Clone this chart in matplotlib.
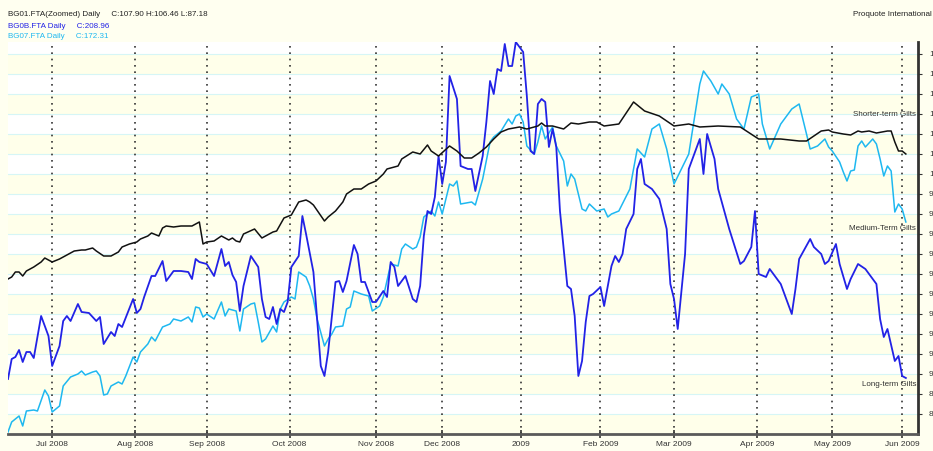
import matplotlib
matplotlib.use("Agg")
import matplotlib.pyplot as plt
import numpy as np

plt.rcParams['font.family'] = ['Liberation Sans', 'DejaVu Sans']

# (trading day since 13 Jun 2008, value)
short_term = [(0, 94.75), (1, 94.85), (2, 95.1), (3, 95.1), (4, 94.9), (5, 95.15), (7, 95.35), (9, 95.6),
              (10, 95.8), (11, 95.7), (12, 95.6), (14, 95.75), (16, 95.95), (18, 96.15), (20, 96.2), (21, 96.2),
              (23, 96.3), (24, 96.15), (26, 95.9), (27, 95.9), (28, 95.9), (30, 96.1), (31, 96.35), (33, 96.5),
              (35, 96.6), (36, 96.75), (38, 96.9), (39, 97.05), (41, 96.9), (42, 97.3), (43, 97.4), (45, 97.35),
              (47, 97.4), (49, 97.4), (50, 97.4), (52, 97.6), (53, 96.5), (54, 96.6), (56, 96.65), (58, 96.9),
              (60, 96.7), (61, 96.8), (62, 96.65), (63, 96.6), (64, 97.0), (67, 97.25), (69, 96.8), (72, 97.1),
              (73, 97.15), (75, 97.8), (77, 97.95), (79, 98.6), (81, 98.7), (82, 98.6), (83, 98.45), (86, 97.65),
              (87, 97.85), (89, 98.15), (91, 98.6), (92, 99.0), (94, 99.25), (96, 99.25), (98, 99.5), (100, 99.65),
              (102, 100.0), (103, 100.25), (106, 100.4), (107, 100.75), (110, 101.1), (112, 101.0), (114, 101.45),
              (115, 101.15), (117, 100.9), (120, 101.4), (122, 101.15), (124, 100.8), (126, 100.8), (128, 101.05),
              (130, 101.35), (132, 101.75), (134, 102.1), (136, 102.25), (139, 102.35), (141, 102.25), (144, 102.4),
              (145, 102.55), (146, 102.4), (148, 102.4), (151, 102.25), (153, 102.55), (155, 102.5), (158, 102.6),
              (160, 102.6), (162, 102.4), (164, 102.45), (166, 102.5), (170, 103.6), (173, 103.15), (177, 102.9),
              (181, 102.4), (185, 102.5), (188, 102.35), (193, 102.4), (199, 102.35), (204, 101.75), (210, 101.75),
              (215, 101.65), (217, 101.65), (219, 101.9), (221, 102.15), (223, 102.2), (224, 102.1), (227, 102.0),
              (229, 101.95), (231, 102.15), (232, 102.1), (234, 102.15), (236, 102.05), (239, 102.15), (240, 102.15),
              (241, 101.6), (242, 101.15), (243, 101.15), (244, 101.0)]

medium_term = [(0, 87.1), (1, 87.6), (3, 87.9), (4, 87.4), (5, 88.15), (7, 88.2), (8, 88.15), (10, 89.2), (11, 88.9),
               (12, 88.1), (14, 88.4), (15, 89.4), (17, 89.85), (19, 90.0), (20, 90.15), (21, 89.95), (23, 90.1),
               (24, 90.15), (25, 89.9), (26, 88.95), (27, 89.0), (28, 89.4), (30, 89.6), (31, 89.5), (32, 89.9),
               (34, 90.85), (35, 90.6), (36, 91.1), (38, 91.5), (39, 91.85), (40, 91.65), (42, 92.35), (44, 92.5),
               (45, 92.75), (47, 92.65), (49, 92.85), (50, 92.6), (51, 93.35), (52, 93.3), (53, 92.85), (54, 93.0),
               (56, 92.75), (58, 93.6), (59, 92.9), (60, 93.25), (62, 93.15), (63, 92.15), (64, 93.25), (66, 93.5),
               (67, 93.55), (68, 92.6), (69, 91.6), (70, 91.75), (72, 92.4), (73, 92.1), (74, 93.25), (75, 93.6),
               (77, 93.85), (78, 93.75), (79, 95.1), (81, 94.85), (82, 94.4), (83, 93.75), (84, 92.75), (86, 91.4),
               (87, 91.75), (88, 92.0), (89, 92.35), (91, 92.4), (92, 93.25), (93, 93.35), (94, 94.15), (96, 94.0),
               (98, 93.9), (99, 93.15), (101, 93.4), (102, 93.85), (104, 95.5), (106, 95.4), (107, 96.25), (108, 96.5),
               (110, 96.25), (111, 96.35), (112, 96.85), (113, 97.85), (115, 98.15), (116, 97.9), (117, 98.6),
               (118, 98.0), (120, 99.5), (121, 99.4), (122, 99.65), (123, 98.5), (126, 98.6), (127, 98.45),
               (129, 99.75), (131, 101.6), (132, 101.85), (134, 102.15), (136, 102.75), (137, 102.5), (138, 102.9),
               (139, 103.0), (140, 102.6), (141, 101.4), (143, 101.0), (144, 101.6), (145, 102.4), (146, 101.75),
               (148, 102.35), (149, 101.4), (151, 100.65), (152, 99.4), (153, 100.0), (154, 99.75), (156, 98.25),
               (157, 98.15), (158, 98.5), (160, 98.15), (162, 98.25), (163, 97.85), (164, 98.0), (166, 98.15),
               (169, 99.25), (171, 101.25), (173, 100.85), (175, 102.25), (177, 102.5), (179, 101.25), (181, 99.5),
               (185, 101.0), (188, 104.5), (189, 105.15), (191, 104.65), (193, 104.0), (194, 104.5), (196, 104.0),
               (198, 102.75), (200, 102.25), (202, 103.85), (204, 104.0), (205, 102.5), (207, 101.25), (210, 102.5),
               (213, 103.25), (215, 103.5), (216, 102.75), (218, 101.25), (220, 101.4), (222, 101.75), (223, 101.35),
               (224, 101.15), (226, 100.6), (227, 100.1), (228, 99.65), (229, 100.15), (230, 100.2), (231, 101.4),
               (232, 101.65), (233, 101.35), (235, 101.75), (236, 101.5), (237, 100.75), (238, 99.9), (239, 100.4),
               (240, 100.15), (241, 98.1), (242, 98.5), (243, 98.25), (244, 97.6)]

long_term = [(0, 89.75), (1, 90.75), (2, 90.85), (3, 91.2), (4, 90.6), (5, 91.1), (6, 91.1), (7, 90.8), (9, 92.9),
             (11, 91.9), (12, 90.4), (14, 91.4), (15, 92.65), (16, 92.9), (17, 92.65), (19, 93.5), (20, 93.1),
             (22, 93.05), (24, 92.65), (25, 92.85), (26, 91.5), (28, 92.1), (29, 91.9), (30, 92.5), (31, 92.35),
             (34, 93.75), (35, 93.05), (36, 93.25), (37, 93.85), (39, 94.9), (40, 94.9), (42, 95.65), (43, 94.65),
             (45, 95.15), (47, 95.15), (49, 95.1), (50, 94.75), (51, 95.75), (52, 95.6), (54, 95.5), (56, 94.9),
             (58, 96.25), (59, 95.4), (60, 95.6), (61, 94.95), (62, 94.6), (63, 93.15), (64, 94.4), (66, 95.9),
             (68, 95.35), (69, 93.75), (70, 92.85), (71, 92.75), (72, 93.35), (73, 92.5), (74, 93.25), (75, 93.1),
             (76, 93.6), (77, 95.35), (79, 95.9), (80, 97.9), (81, 97.0), (83, 95.1), (85, 90.4), (86, 89.9),
             (87, 91.1), (89, 94.6), (90, 94.65), (91, 94.1), (92, 94.65), (94, 96.45), (95, 96.0), (96, 94.6),
             (97, 94.6), (99, 93.6), (100, 93.6), (102, 94.15), (103, 93.85), (104, 95.6), (105, 95.35), (106, 94.4),
             (108, 94.9), (110, 93.75), (111, 93.6), (112, 94.4), (113, 96.9), (114, 98.15), (115, 98.0),
             (116, 98.85), (117, 100.9), (118, 99.5), (119, 100.6), (120, 104.9), (122, 103.75), (123, 100.4),
             (125, 100.25), (126, 100.25), (127, 99.15), (129, 100.9), (130, 102.6), (131, 104.65), (132, 104.0),
             (133, 105.25), (134, 105.15), (135, 106.5), (136, 105.4), (137, 105.4), (138, 106.6), (140, 106.1),
             (141, 103.9), (142, 101.15), (143, 101.0), (144, 103.5), (145, 103.75), (146, 103.6), (147, 101.35),
             (148, 102.25), (149, 101.35), (150, 98.15), (152, 94.4), (153, 94.25), (154, 92.9), (155, 89.9),
             (156, 90.65), (157, 92.6), (158, 93.9), (159, 94.0), (161, 94.35), (162, 93.4), (163, 94.4), (164, 95.4),
             (165, 95.9), (166, 95.6), (167, 96.0), (168, 97.25), (170, 98.0), (171, 100.25), (172, 100.75),
             (173, 99.5), (175, 99.25), (177, 98.75), (179, 97.25), (180, 94.5), (181, 93.75), (182, 92.25),
             (184, 96.0), (185, 100.25), (187, 101.25), (188, 101.75), (189, 100.0), (190, 102.0), (192, 100.75),
             (193, 99.25), (196, 97.25), (199, 95.5), (200, 95.65), (202, 96.35), (203, 98.15), (204, 95.0),
             (206, 94.85), (207, 95.25), (210, 94.5), (213, 93.0), (214, 94.25), (215, 95.75), (218, 96.75),
             (219, 96.35), (221, 96.0), (222, 95.5), (223, 95.65), (225, 96.5), (226, 95.5), (228, 94.25),
             (229, 94.75), (231, 95.5), (233, 95.25), (236, 94.5), (237, 92.75), (238, 91.85), (239, 92.25),
             (241, 90.65), (242, 90.9), (243, 89.9), (244, 89.8)]

month_labels = ['Jul 2008', 'Aug 2008', 'Sep 2008', 'Oct 2008', 'Nov 2008', 'Dec 2008',
                '2009', 'Feb 2009', 'Mar 2009', 'Apr 2009', 'May 2009', 'Jun 2009']
month_days = [12, 34.5, 54, 76.5, 100, 118, 139.5, 161, 181, 203.5, 224, 243]
y_ticks = list(range(88, 107))

W, H = 933, 451
fig = plt.figure(figsize=(W / 100, H / 100), dpi=100)
fig.patch.set_facecolor('#FFFFF0')
ax = fig.add_axes([8 / W, 17 / H, 910 / W, 392 / H])
ax.set_facecolor('white')
ax.set_xlim(0, 247.3)
ax.set_ylim(87.0, 106.6)

# striped background
for v in range(87, 107):
    if v % 2 == 1:
        ax.axhspan(v, v + 1, color='#FFFFEA', lw=0, zorder=0)
    ax.axhline(v, color='#D6F6F6', lw=0.8, zorder=0.5)

for d in month_days:
    ax.axvline(d, color='#333333', lw=1.2, ls=(0, (1, 2.8)), zorder=1)

for series, col, lw in [(medium_term, '#1EB8F0', 1.1), (long_term, '#2222E6', 1.3), (short_term, '#111111', 1.1)]:
    arr = np.array(series)
    ax.plot(arr[:, 0], arr[:, 1], color=col, lw=lw, zorder=3)

for s in ['left', 'top']:
    ax.spines[s].set_visible(False)
ax.spines['bottom'].set_color('#5A5A5A')
ax.spines['bottom'].set_linewidth(2)
ax.spines['right'].set_color('#333333')
ax.spines['right'].set_linewidth(2)

# right-hand price labels run off the edge, as in the original screenshot
ax.yaxis.tick_right()
ax.set_yticks(y_ticks)
ax.set_yticklabels([str(v) for v in y_ticks])
ax.tick_params(axis='y', labelsize=6, length=3, width=0.8, pad=5, colors='#333333')
ax.set_xticks(month_days)
ax.set_xticklabels(month_labels)
ax.tick_params(axis='x', labelsize=6, direction='inout', length=6, width=1.2, pad=2, colors='#333333')

ax.text(246.8, 102.95, 'Shorter-term Gilts', fontsize=5.8, color='#333333', ha='right', va='center', zorder=4)
ax.text(246.8, 97.25, 'Medium-Term Gilts', fontsize=5.8, color='#333333', ha='right', va='center', zorder=4)
ax.text(246.8, 89.5, 'Long-term Gilts', fontsize=5.8, color='#333333', ha='right', va='center', zorder=4)

fig.text(8 / W, 1 - 15 / H, 'BG01.FTA(Zoomed) Daily     C:107.90 H:106.46 L:87.18', fontsize=5.8, color='#222222', va='center')
fig.text(8 / W, 1 - 26 / H, 'BG0B.FTA Daily     C:208.96', fontsize=5.8, color='#2222E6', va='center')
fig.text(8 / W, 1 - 36 / H, 'BG07.FTA Daily     C:172.31', fontsize=5.8, color='#1EB8F0', va='center')
fig.text(853 / W, 1 - 15 / H, 'Proquote International', fontsize=5.8, color='#222222', va='center')

fig.savefig('out.png', dpi=100, facecolor=fig.get_facecolor())
